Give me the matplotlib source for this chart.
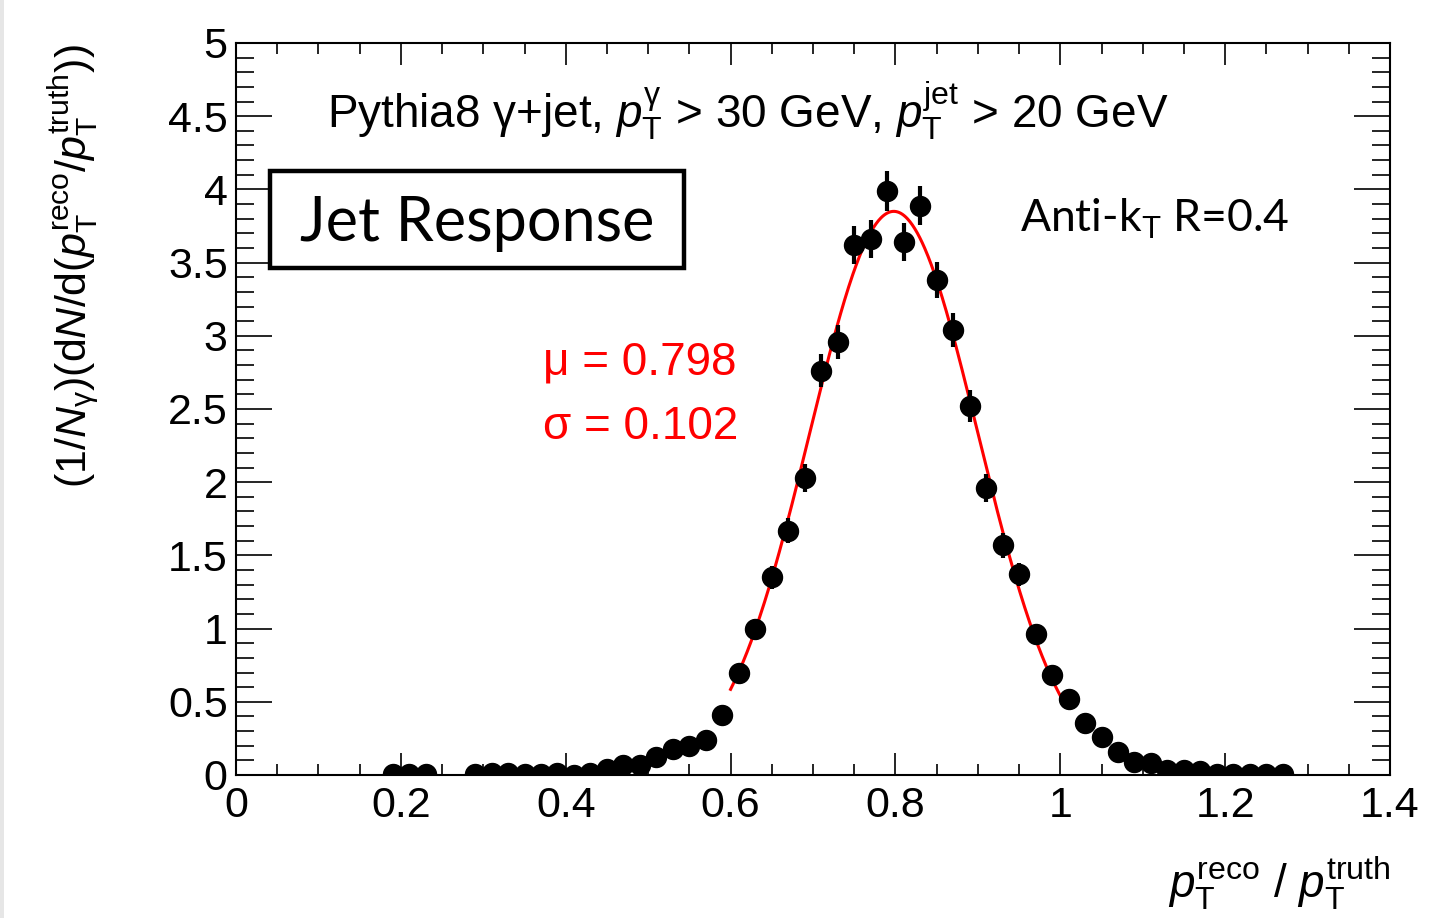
import numpy as np
import matplotlib.pyplot as plt
from matplotlib.patches import Rectangle
from matplotlib.ticker import MultipleLocator, FuncFormatter

plt.rcParams['font.family'] = ['Liberation Sans', 'DejaVu Sans']
plt.rcParams['mathtext.fontset'] = 'custom'
plt.rcParams['mathtext.rm'] = 'Liberation Sans'
plt.rcParams['mathtext.it'] = 'Liberation Sans:italic'
plt.rcParams['mathtext.bf'] = 'Liberation Sans:bold'
plt.rcParams['mathtext.sf'] = 'Liberation Sans'

# bin centres of pT(reco)/pT(truth), empty bins left out
x = [0.19, 0.21, 0.23, 0.29, 0.31, 0.33, 0.35, 0.37, 0.39, 0.41,
     0.43, 0.45, 0.47, 0.49, 0.51, 0.53, 0.55, 0.57, 0.59, 0.61,
     0.63, 0.65, 0.67, 0.69, 0.71, 0.73, 0.75, 0.77, 0.79, 0.81,
     0.83, 0.85, 0.87, 0.89, 0.91, 0.93, 0.95, 0.97, 0.99, 1.01,
     1.03, 1.05, 1.07, 1.09, 1.11, 1.13, 1.15, 1.17, 1.19, 1.21,
     1.23, 1.25, 1.27]
y = [0.007, 0.007, 0.010, 0.010, 0.016, 0.016, 0.010, 0.010, 0.016, 0.002,
     0.016, 0.039, 0.068, 0.068, 0.125, 0.180, 0.198, 0.240, 0.410, 0.700,
     1.000, 1.350, 1.670, 2.030, 2.760, 2.960, 3.620, 3.660, 3.990, 3.640,
     3.890, 3.380, 3.040, 2.520, 1.960, 1.570, 1.370, 0.960, 0.680, 0.520,
     0.355, 0.260, 0.155, 0.090, 0.085, 0.035, 0.035, 0.030, 0.008, 0.008,
     0.008, 0.010, 0.008]
yerr = [0.006, 0.006, 0.007, 0.007, 0.008, 0.008, 0.007, 0.007, 0.008, 0.003,
        0.008, 0.013, 0.018, 0.018, 0.024, 0.029, 0.030, 0.033, 0.044, 0.057,
        0.068, 0.079, 0.088, 0.097, 0.113, 0.117, 0.130, 0.130, 0.136, 0.130,
        0.134, 0.125, 0.119, 0.108, 0.095, 0.085, 0.080, 0.067, 0.056, 0.049,
        0.040, 0.035, 0.027, 0.020, 0.020, 0.013, 0.013, 0.012, 0.006, 0.006,
        0.006, 0.007, 0.006]

# gaussian fit result
mu = 0.798
sigma = 0.102
amp = 3.85
fit_range = (0.6, 1.0)

W, H = 1438, 918
fig = plt.figure(figsize=(W / 100, H / 100), dpi=100)
ax = fig.add_axes([236 / W, 1 - 775 / H, (1390 - 236) / W, (775 - 43) / H])

xf = np.linspace(fit_range[0], fit_range[1], 400)
yf = amp * np.exp(-0.5 * ((xf - mu) / sigma) ** 2)
ax.plot(xf, yf, color='#ff0000', lw=2.2, zorder=2)

ax.errorbar(x, y, yerr=yerr, fmt='o', color='black', ms=14.4,
            elinewidth=3, capsize=0, zorder=3)

ax.set_xlim(0, 1.4)
ax.set_ylim(0, 5)

fmt = FuncFormatter(lambda v, p: '%g' % round(v, 3))
ax.xaxis.set_major_locator(MultipleLocator(0.2))
ax.xaxis.set_minor_locator(MultipleLocator(0.05))
ax.yaxis.set_major_locator(MultipleLocator(0.5))
ax.yaxis.set_minor_locator(MultipleLocator(0.1))
ax.xaxis.set_major_formatter(fmt)
ax.yaxis.set_major_formatter(fmt)

ax.tick_params(which='both', direction='in', top=True, right=True,
               width=1.2, labelsize=31)
ax.tick_params(axis='x', which='major', length=16, pad=8)
ax.tick_params(axis='x', which='minor', length=8)
ax.tick_params(axis='y', which='major', length=26, pad=6)
ax.tick_params(axis='y', which='minor', length=13)
for s in ax.spines.values():
    s.set_linewidth(1.5)

# axis titles
fig.text(1390 / W, 1 - 898 / H,
         r'$p_{\mathrm{T}}^{\mathrm{reco}}$ / $p_{\mathrm{T}}^{\mathrm{truth}}$',
         ha='right', va='baseline', fontsize=33)
fig.text(74 / W, 1 - 44 / H,
         r'(1/$N_{\mathrm{\gamma}}$)(d$N$/d($p_{\mathrm{T}}^{\mathrm{reco}}$/$p_{\mathrm{T}}^{\mathrm{truth}}$))',
         rotation=90, ha='center', va='top', fontsize=31)

# event selection
fig.text(327 / W, 1 - 128 / H,
         r'Pythia8 γ+jet, $p_{\mathrm{T}}^{\mathrm{\gamma}}$ > 30 GeV, '
         r'$p_{\mathrm{T}}^{\mathrm{jet}}$ > 20 GeV',
         ha='left', va='baseline', fontsize=33)

# boxed label
fig.patches.append(Rectangle((270 / W, 1 - 268 / H), 414 / W, 97 / H,
                             transform=fig.transFigure, fill=False,
                             lw=3.2, ec='black'))
fig.text(477 / W, 1 - 223 / H, 'Jet Response', family='Lato',
         ha='center', va='center', fontsize=44)

fig.text(1020 / W, 1 - 232 / H, r'Anti-k$_{\mathrm{T}}$ R=0.4', family='Lato',
         ha='left', va='baseline', fontsize=32)

# fit parameters
fig.text(543 / W, 1 - 362 / H, 'μ = %.3f' % mu, color='#ff0000',
         ha='left', va='center', fontsize=33)
fig.text(543 / W, 1 - 427 / H, 'σ = %.3f' % sigma, color='#ff0000',
         ha='left', va='center', fontsize=33)

fig.patches.append(Rectangle((0, 0), 4 / W, 1, transform=fig.transFigure,
                             color='#e6e6e6', lw=0))

fig.savefig('out.png', dpi=100)
